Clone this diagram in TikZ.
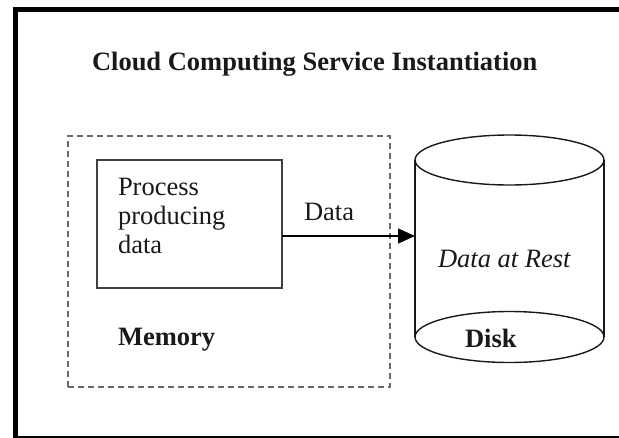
\documentclass[tikz,border=0pt]{standalone}
\usepackage{fontspec}
\setmainfont{Liberation Serif}
\usetikzlibrary{arrows.meta,calc}
\definecolor{ink}{RGB}{25,25,25}
\definecolor{dashgray}{RGB}{105,105,105}
\definecolor{boxgray}{RGB}{65,65,65}
\begin{document}
\begin{tikzpicture}[x=1pt,y=-1pt,
  txt/.style={font=\fontsize{26.5}{29}\selectfont, text=ink, inner sep=0pt, outer sep=0pt},
  frame/.style={line width=5pt, draw=black, line join=miter},
  dashbox/.style={draw=dashgray, line width=2pt, dash pattern=on 6pt off 4pt},
  procbox/.style={draw=boxgray, line width=1.6pt, inner sep=0pt, outer sep=0pt},
  cyl/.style={draw=ink, line width=1.4pt},
  arr/.style={draw=black, line width=1.5pt, -{Triangle[length=17pt,width=15pt]}}]
\useasboundingbox (0,0) rectangle (619,437);
% outer frame (right edge lies off the page)
\draw[frame] (660,9.5) -- (15.5,9.5) -- (15.5,438.5) -- (660,438.5);
% title
\node[txt, font=\fontsize{26.5}{29}\selectfont\bfseries, anchor=base west] (title) at (92,70) {Cloud Computing Service Instantiation};
% memory (dashed) box
\node[dashbox, minimum width=322pt, minimum height=251pt, inner sep=0pt] (mem) at (229,261.5) {};
\node[txt, font=\fontsize{26.5}{29}\selectfont\bfseries, anchor=base west] (memlabel) at (118,345) {Memory};
% process box
\node[procbox, minimum width=185pt, minimum height=128pt] (proc) at (189.5,224) {};
\node[txt, anchor=north west, align=left] (proctext) at (118,178.5) {Process\\producing\\data};
% disk cylinder
\node[inner sep=0pt, outer sep=0pt, minimum width=189pt, minimum height=228pt] (disk) at (509.5,248.5) {};
\draw[cyl] (415,160) -- (415,337);
\draw[cyl] (604,160) -- (604,337);
\draw[cyl] (509.5,160) ellipse [x radius=94.5pt, y radius=25pt];
\draw[cyl] (509.5,337) ellipse [x radius=94.5pt, y radius=25.5pt];
\node[txt, font=\fontsize{26.5}{29}\selectfont\itshape, anchor=base west] (rest) at (438,267) {Data at Rest};
\node[txt, font=\fontsize{26.5}{29}\selectfont\bfseries, anchor=base west] (disklabel) at (465,347) {Disk};
% arrow
\draw[arr] ([yshift=-12pt]proc.east) -- ([yshift=-12pt]proc.east -| disk.west);
\node[txt, anchor=base west] (datalabel) at (304,220) {Data};
\end{tikzpicture}
\end{document}
